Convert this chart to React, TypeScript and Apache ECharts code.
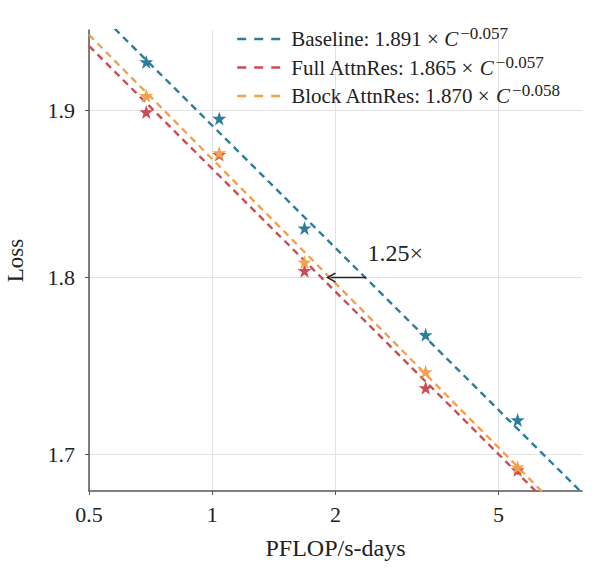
import React, { useEffect, useRef } from "react";
import * as echarts from "echarts";

// Compute budgets (PFLOP/s-days) of the measured runs
const computeX = [0.69, 1.04, 1.68, 3.32, 5.57];
// Measured losses (stars)
const baselineLoss = [1.93, 1.895, 1.829, 1.767, 1.719];
const fullLoss = [1.899, 1.873, 1.804, 1.737, 1.6915];
const blockLoss = [1.909, 1.874, 1.809, 1.746, 1.693];

// Fitted power-law lines, endpoints
const fitX = [0.5, 8];
const baselineFit = [1.967, 1.679];
const fullFit = [1.94, 1.655];
const blockFit = [1.947, 1.658];

// Axis ticks
const xTicks = [0.5, 1, 2, 5];
const yTicks = [1.7, 1.8, 1.9];

// Legend texts
const names = ["Baseline", "Full AttnRes", "Block AttnRes"];
const coefs = ["1.891", "1.865", "1.870"];
const exps = ["\u22120.057", "\u22120.057", "\u22120.058"];

// Annotation
const speedupLabel = "1.25\u00d7";
const arrowFrom = [2.37, 1.8];
const arrowTo = [1.95, 1.8];
const speedupLabelAt = [2.8, 1.8145];

const colors = ["#2b7d9b", "#cf4a55", "#f0a24c"];
const SERIF = "'Liberation Serif', 'Times New Roman', serif";
const STAR =
  "path://M50,0 L61.8,35.1 L98.9,35.1 L68.9,56.9 L80.2,92.1 L50,70.3 L19.8,92.1 L31.1,56.9 L1.1,35.1 L38.2,35.1 Z";
const CHEVRON = "path://M5,0 L10,9 L8.8,10 L5,3.2 L1.2,10 L0,9 Z";

export default function App() {
  const ref = useRef<HTMLDivElement>(null);

  useEffect(() => {
    if (!ref.current) return;
    const chart = echarts.init(ref.current, undefined, { renderer: "svg" });

    const fits = [baselineFit, fullFit, blockFit];
    const losses = [baselineLoss, fullLoss, blockLoss];

    const lineSeries: any[] = names.map((name, i) => ({
      name,
      type: "line",
      data: fitX.map((x, j) => [x, fits[i][j]]),
      symbol: "none",
      showSymbol: false,
      lineStyle: { color: colors[i], width: 2.4, type: [7, 5] },
      itemStyle: { color: colors[i] },
      z: 2,
      silent: true,
    }));

    lineSeries[0].markLine = {
      silent: true,
      symbol: ["none", CHEVRON],
      symbolSize: [10, 10],
      lineStyle: { color: "#222", width: 1.3, type: "solid" },
      label: { show: false },
      data: [[{ coord: arrowFrom }, { coord: arrowTo }]],
      z: 5,
    };
    lineSeries[0].markPoint = {
      silent: true,
      symbol: "circle",
      symbolSize: 1,
      itemStyle: { color: "rgba(0,0,0,0)" },
      label: {
        show: true,
        position: "inside",
        formatter: speedupLabel,
        fontFamily: SERIF,
        fontSize: 24,
        color: "#222",
      },
      data: [{ coord: speedupLabelAt }],
    };

    const starSeries = names.map((name, i) => ({
      name: name + " runs",
      type: "scatter",
      data: computeX.map((x, j) => [x, losses[i][j]]),
      symbol: STAR,
      symbolSize: 14,
      itemStyle: { color: colors[i], opacity: 1 },
      z: 3 + i,
      silent: true,
    }));

    chart.setOption({
      animation: false,
      backgroundColor: "#fff",
      grid: {
        left: 89,
        right: 18,
        top: 30,
        bottom: 79,
        containLabel: false,
        outerBoundsMode: "none",
      },
      legend: {
        data: names,
        orient: "vertical",
        left: 236,
        top: 25,
        padding: 0,
        itemWidth: 44,
        itemHeight: 14,
        itemGap: 4,
        selectedMode: false,
        itemStyle: { opacity: 0, borderWidth: 0 },
        lineStyle: { width: 2.4, type: [9, 8] },
        formatter: (name: string) => {
          const i = names.indexOf(name);
          return `{a|${name}: ${coefs[i]} \u00d7 }{c|C}{s|${exps[i]}}`;
        },
        textStyle: {
          fontFamily: SERIF,
          fontSize: 21,
          color: "#222",
          padding: [0, 0, 0, 5],
          rich: {
            a: { fontFamily: SERIF, fontSize: 21, color: "#222", lineHeight: 28 },
            c: {
              fontFamily: SERIF,
              fontSize: 21,
              fontStyle: "italic",
              color: "#222",
              lineHeight: 28,
            },
            s: {
              fontFamily: SERIF,
              fontSize: 17,
              color: "#222",
              verticalAlign: "top",
              lineHeight: 16,
              padding: [0, 0, 0, 2],
            },
          },
        },
      },
      xAxis: {
        type: "log",
        min: 0.5,
        max: 8,
        name: "PFLOP/s-days",
        nameLocation: "middle",
        nameGap: 45,
        nameTextStyle: { fontFamily: SERIF, fontSize: 24, color: "#222" },
        axisLine: { show: true, lineStyle: { color: "#555", width: 1.5 } },
        axisTick: {
          show: true,
          length: 4,
          customValues: xTicks,
          lineStyle: { color: "#555", width: 1 },
        },
        axisLabel: {
          customValues: xTicks,
          margin: 12,
          fontFamily: SERIF,
          fontSize: 22,
          color: "#222",
          formatter: (v: number) => String(+v.toFixed(2)),
        },
        splitLine: { show: true, lineStyle: { color: "#e2e2e2", width: 1 } },
        minorTick: { show: false },
        minorSplitLine: { show: false },
      },
      yAxis: {
        type: "log",
        min: 1.68,
        max: 1.95,
        name: "Loss",
        nameLocation: "middle",
        nameGap: 62,
        nameRotate: 90,
        nameTextStyle: { fontFamily: SERIF, fontSize: 23, color: "#222" },
        axisLine: { show: true, lineStyle: { color: "#555", width: 1.5 } },
        axisTick: {
          show: true,
          length: 4,
          customValues: yTicks,
          lineStyle: { color: "#555", width: 1 },
        },
        axisLabel: {
          customValues: yTicks,
          margin: 14,
          fontFamily: SERIF,
          fontSize: 22,
          color: "#222",
          formatter: (v: number) => (+v).toFixed(1),
        },
        splitLine: { show: true, lineStyle: { color: "#e2e2e2", width: 1 } },
      },
      series: [...lineSeries, ...starSeries],
    });

    return () => chart.dispose();
  }, []);

  return (
    <div
      ref={ref}
      style={{ position: "absolute", left: 0, top: 0, width: 600, height: 570 }}
    />
  );
}
